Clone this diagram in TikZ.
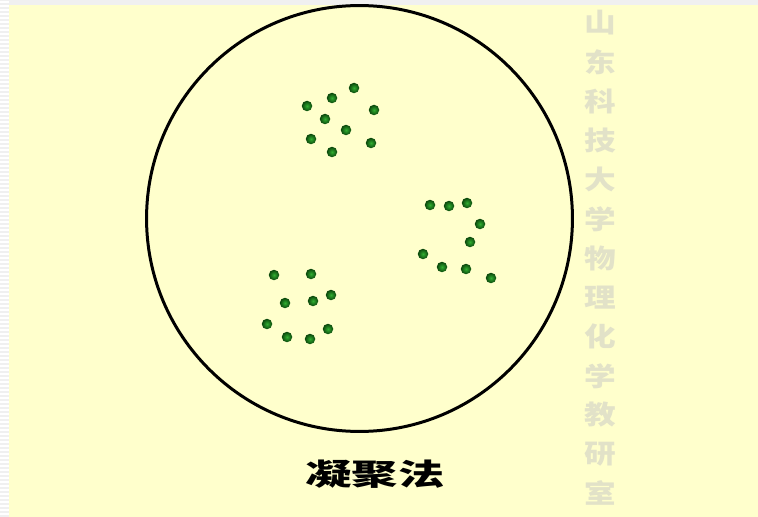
\documentclass[tikz,border=0pt]{standalone}
\usepackage{fontspec}
\newfontfamily\cjk{Noto Sans CJK SC}
\usetikzlibrary{positioning}
\definecolor{paper}{RGB}{255,255,204}
\definecolor{mark}{RGB}{226,226,200}
\definecolor{dotgreen}{RGB}{50,175,50}
\definecolor{dotrim}{RGB}{10,70,10}

\begin{document}
\begin{tikzpicture}[x=0.02cm, y=-0.02cm,
    particle/.style={circle, inner sep=0pt, minimum size=0.21cm, inner color=dotgreen, outer color=dotrim},
    title/.style={font=\cjk\bfseries\fontsize{17}{17}\selectfont, xscale=1.55, inner sep=0pt},
    wmark/.style={font=\cjk\bfseries\fontsize{15}{15}\selectfont, text=mark, xscale=1.2, inner sep=0pt}]
\useasboundingbox (0,0) rectangle (758,517);
% page background
\fill[gray!12] (0,0) rectangle (758,517);
\foreach \y in {2,6,...,517}
  \draw[white, line width=0.03cm] (0,\y) -- (9,\y);
\fill[paper] (9,5) rectangle (758,517);

% the vessel
\node[circle, draw, line width=0.06cm, minimum size=8.52cm, inner sep=0pt] (vessel) at (359.5,218.5) {};

% upper cluster
\foreach \x/\y [count=\i] in {354/88, 332/98, 307/106, 374/110, 325/119, 346/130, 311/139, 371/143, 332/152}
  \node[particle] (a\i) at (\x,\y) {};
% right cluster
\foreach \x/\y [count=\i] in {430/205, 449/206, 467/203, 480/224, 470/242, 423/254, 442/267, 466/269, 491/278}
  \node[particle] (b\i) at (\x,\y) {};
% lower cluster
\foreach \x/\y [count=\i] in {274/275, 311/274, 331/295, 285/303, 313/301, 267/324, 287/337, 328/329, 310/339}
  \node[particle] (c\i) at (\x,\y) {};

% caption
\node[title] (caption) at (375,474) {凝聚法};

% watermark
\foreach \ch [count=\i from 0] in {山,东,科,技,大,学,物,理,化,学,教,研,室}
  \node[wmark] (w\i) at (600,{23+39.2*\i}) {\ch};
\end{tikzpicture}
\end{document}
